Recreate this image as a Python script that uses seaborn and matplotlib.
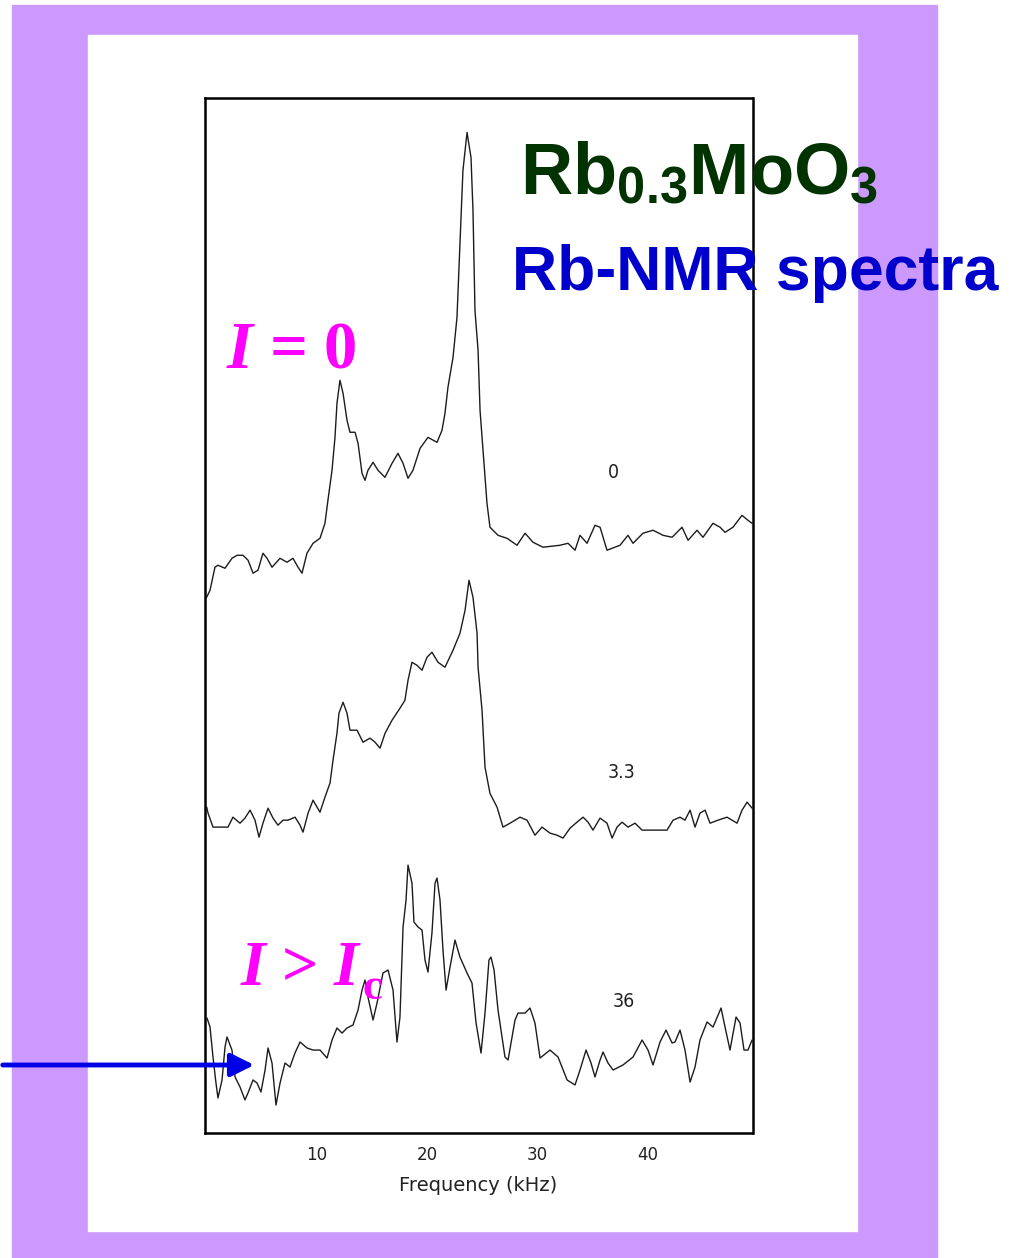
import numpy as np
import pandas as pd
import matplotlib
matplotlib.use("Agg")
import matplotlib.pyplot as plt
import seaborn as sns
from matplotlib.patches import Rectangle

# spectra: frequency in kHz, signal in arb. units above each trace's baseline
freq_0 = [0.0, 0.30, 0.75, 1.02, 1.66, 2.29, 2.75, 3.29, 3.75, 4.20, 4.65, 5.10, 5.47, 5.92,
          6.65, 7.28, 7.82, 8.28, 8.64, 9.09, 9.64, 10.27, 10.72, 10.99, 11.36, 11.63, 11.81,
          12.08, 12.36, 12.72, 12.99, 13.45, 13.72, 14.08, 14.35, 14.62, 15.08, 15.53, 16.16,
          16.80, 17.34, 17.80, 18.25, 18.70, 19.34, 20.06, 20.88, 21.33, 21.60, 21.87, 22.33,
          22.69, 22.96, 23.23, 23.60, 23.96, 24.14, 24.32, 24.60, 24.78, 25.05, 25.41, 25.68,
          26.41, 27.23, 28.13, 28.86, 29.58, 30.49, 32.03, 32.76, 33.39, 33.84, 34.48, 35.20,
          35.66, 36.29, 37.47, 38.19, 38.65, 39.55, 40.46, 41.37, 42.19, 43.09, 43.64, 44.45,
          44.99, 45.90, 46.54, 46.99, 47.71, 48.53, 49.07, 49.44]
sig_0 = [-5.26, -4.58, -2.36, -2.17, -2.46, -1.50, -1.21, -1.21, -1.69, -2.94, -2.65, -1.01,
         -1.50, -2.36, -1.50, -1.88, -1.50, -2.36, -2.94, -1.01, -0.05, 0.43, 1.88, 4.10, 7.00,
         10.18, 13.47, 15.69, 14.43, 11.83, 10.67, 10.67, 9.61, 6.71, 6.03, 7.00, 7.77, 7.00,
         6.32, 7.67, 8.64, 7.67, 6.23, 7.00, 9.12, 10.18, 9.70, 10.86, 12.50, 15.01, 17.90,
         21.77, 28.91, 35.96, 39.62, 37.21, 32.09, 22.44, 18.58, 12.79, 8.93, 3.81, 1.50, 0.72,
         0.43, -0.24, 0.92, 0.05, -0.43, -0.24, -0.05, -0.72, 0.72, -0.05, 1.69, 1.50, -0.72,
         -0.24, 0.72, -0.05, 0.92, 1.21, 0.72, 0.53, 1.50, 0.24, 1.21, 0.53, 1.88, 1.50, 1.01,
         1.50, 2.65, 2.17, 1.88]

freq_33 = [0.0, 0.12, 0.57, 1.93, 2.38, 3.02, 3.47, 3.93, 4.38, 4.74, 5.10, 5.56, 6.01, 6.46,
           6.92, 7.37, 8.01, 8.46, 8.73, 9.19, 9.64, 10.27, 10.72, 11.18, 11.45, 11.81, 11.99,
           12.36, 12.72, 12.99, 13.63, 14.17, 14.81, 15.26, 15.71, 16.17, 16.80, 17.52, 17.97,
           18.25, 18.61, 19.06, 19.52, 19.97, 20.42, 20.97, 21.60, 22.33, 22.96, 23.42, 23.78,
           24.14, 24.51, 24.60, 24.96, 25.23, 25.68, 26.32, 26.86, 27.50, 28.40, 29.04, 29.76,
           30.40, 31.12, 31.76, 32.30, 32.94, 33.57, 34.12, 34.57, 35.02, 35.66, 36.29, 36.75,
           37.20, 37.65, 38.20, 38.83, 39.47, 40.19, 41.10, 41.73, 42.28, 42.91, 43.36, 43.82,
           44.27, 44.72, 45.18, 45.63, 46.35, 47.17, 48.08, 48.53, 48.99, 49.44]
sig_33 = [1.47, 0.89, -0.46, -0.46, 0.50, -0.08, 0.41, 1.18, 0.21, -1.43, -0.08, 1.37, 0.41,
          -0.27, 0.21, 0.21, 0.50, -0.27, -0.95, 0.89, 2.14, 0.98, 2.43, 3.80, 6.00, 8.61, 10.54,
          11.60, 10.54, 8.90, 8.90, 7.74, 8.13, 7.74, 7.16, 8.61, 9.86, 11.02, 11.79, 13.72,
          15.46, 15.17, 14.69, 15.94, 16.43, 15.46, 14.98, 16.62, 18.26, 20.48, 23.38, 21.74,
          18.26, 14.98, 10.83, 5.33, 2.80, 1.47, -0.46, -0.08, 0.50, 0.21, -1.24, -0.46, -1.04,
          -1.24, -1.52, -0.56, 0.02, 0.50, 0.02, -0.75, 0.41, -0.08, -1.52, -0.46, 0.02, -0.46,
          -0.08, -0.75, -0.75, -0.75, -0.75, 0.21, 0.50, 0.21, 1.18, -0.46, 0.89, 1.18, -0.08,
          0.21, 0.50, -0.08, 1.18, 1.95, 1.37]

freq_36 = [0.03, 0.30, 0.57, 0.84, 1.02, 1.39, 1.66, 1.84, 2.29, 2.57, 3.02, 3.47, 3.74, 4.20,
           4.56, 4.92, 5.29, 5.56, 5.92, 6.28, 6.65, 7.10, 7.55, 8.00, 8.46, 9.09, 9.64, 10.27,
           10.91, 11.36, 11.81, 12.27, 12.72, 13.26, 13.72, 14.08, 14.35, 14.62, 15.08, 15.44,
           15.98, 16.44, 16.89, 17.25, 17.52, 17.80, 18.07, 18.25, 18.61, 18.79, 19.16, 19.52,
           19.79, 20.06, 20.42, 20.70, 20.88, 21.15, 21.42, 21.70, 22.06, 22.51, 22.96, 23.60,
           24.05, 24.42, 24.87, 25.23, 25.59, 25.77, 26.05, 26.41, 27.04, 27.32, 27.95, 28.22,
           28.86, 29.31, 29.76, 30.22, 31.12, 31.85, 32.67, 33.39, 33.84, 34.39, 34.84, 35.20,
           35.66, 35.93, 36.38, 36.84, 37.74, 38.65, 39.47, 40.01, 40.46, 41.10, 41.64, 42.19,
           42.46, 42.91, 43.36, 43.82, 44.27, 44.72, 45.36, 45.90, 46.63, 46.99, 47.44, 47.99,
           48.35, 48.71, 49.07, 49.44]
sig_36 = [4.10, 3.23, 0.34, -2.17, -3.62, -1.88, 1.30, 2.27, 1.01, -1.59, -2.56, -3.81, -3.14,
          -1.88, -2.17, -3.04, -0.92, 1.21, -0.24, -4.30, -2.17, -0.24, -0.63, 0.72, 1.79, 1.21,
          1.01, 1.01, 0.24, 1.98, 3.14, 2.65, 3.14, 3.43, 4.87, 6.80, 7.77, 6.13, 3.91, 5.55,
          8.45, 8.74, 6.80, 1.79, 4.20, 12.89, 15.49, 18.87, 17.13, 13.37, 12.89, 12.60, 9.70,
          8.54, 12.31, 17.13, 17.62, 15.49, 10.67, 6.80, 9.03, 11.63, 9.99, 8.45, 7.48, 3.62,
          0.72, 4.58, 9.70, 9.99, 8.74, 4.87, 0.34, 0.05, 3.91, 4.58, 4.58, 5.07, 3.62, 0.24,
          1.01, 0.34, -1.88, -2.36, -0.92, 1.01, -0.24, -1.59, 0.05, 0.82, -0.24, -0.92, -0.43,
          0.34, 1.98, 1.01, -0.43, 1.79, 2.94, 1.69, 1.79, 2.94, 1.01, -2.08, -0.63, 1.98, 3.72,
          3.23, 5.07, 3.23, 1.01, 4.20, 3.62, 1.01, 1.01, 1.98]

currents = ['0', '3.3', '36']
offsets = [57, 30, 7]
freq_ticks = [10, 20, 30, 40]

# figure pixels: 1011 x 1258
W, H = 1011, 1258
def fx(px):
    return px / W
def fy(py):
    return 1 - py / H

sns.set_style("white")
plt.rcParams['font.family'] = ['DejaVu Sans']
plt.rcParams['mathtext.fontset'] = 'custom'
plt.rcParams['mathtext.rm'] = 'Liberation Sans:bold'
plt.rcParams['mathtext.it'] = 'Liberation Serif:italic:bold'
plt.rcParams['mathtext.bf'] = 'Liberation Serif:bold'

fig = plt.figure(figsize=(W / 100, H / 100), dpi=100)
fig.patch.set_facecolor('white')
# slide background: lilac frame with a white card
fig.add_artist(Rectangle((fx(12), 0), fx(937) - fx(12), fy(5), transform=fig.transFigure,
                         color='#CC99FF', zorder=-2))
fig.add_artist(Rectangle((fx(88), fy(1231)), fx(857) - fx(88), fy(35) - fy(1231),
                         transform=fig.transFigure, color='white', zorder=-1))

ax = fig.add_axes([fx(204.5), fy(1133), fx(752.5) - fx(204.5), fy(97.5) - fy(1133)])
ax.set_facecolor('white')

for f, s, off in zip([freq_0, freq_33, freq_36], [sig_0, sig_33, sig_36], offsets):
    df = pd.DataFrame({'freq': f, 'signal': np.array(s) + off})
    sns.lineplot(data=df, x='freq', y='signal', sort=False, estimator=None,
                 color='#1c1c1c', lw=1.0, ax=ax)

label_xy = [(36.84, 63.8), (37.6, 34.8), (37.85, 12.7)]
for lab, (x, y) in zip(currents, label_xy):
    ax.text(x, y, lab, ha='center', va='center', fontsize=14, color='#222222',
            fontstretch='condensed')

ax.set_xlim(-0.2, 49.48)
ax.set_ylim(0, 100)
ax.set_yticks([])
ax.set_xticks(freq_ticks)
ax.set_xticklabels([str(t) for t in freq_ticks])
ax.tick_params(axis='x', direction='in', length=5, width=1.2, pad=9, labelsize=12,
               colors='#222222')
for sp in ax.spines.values():
    sp.set_linewidth(1.8)
    sp.set_color('black')
ax.set_xlabel('Frequency (kHz)', fontsize=14, labelpad=9, color='#222222')
ax.set_ylabel('')

# slide annotations
fig.text(fx(520), fy(195), r'Rb$_{0.3}$MoO$_{3}$', fontsize=52, fontweight='bold',
         family='Liberation Sans', color='#003300', va='baseline', ha='left')
fig.text(fx(512), fy(290), 'Rb-NMR spectra', fontsize=45, fontweight='bold',
         family='Liberation Sans', color='#0000CC', va='baseline', ha='left')
fig.text(fx(226), fy(367), r'$I$ = 0', fontsize=48, fontweight='bold',
         family='Liberation Serif', color='#FF00FF', va='baseline', ha='left')
fig.text(fx(240), fy(985), r'$I$ > $I$', fontsize=46, fontweight='bold',
         family='Liberation Serif', color='#FF00FF', va='baseline', ha='left')
fig.text(fx(363), fy(999), 'c', fontsize=32, fontweight='bold',
         family='Liberation Serif', color='#FF00FF', va='baseline', ha='left')

fig.add_artist(matplotlib.patches.FancyArrowPatch(
    (fx(0), fy(1065)), (fx(257), fy(1065)), transform=fig.transFigure,
    arrowstyle='-|>,head_length=14,head_width=7', mutation_scale=1,
    lw=3.5, color='#0000E6'))

fig.savefig('out.png', dpi=100)
